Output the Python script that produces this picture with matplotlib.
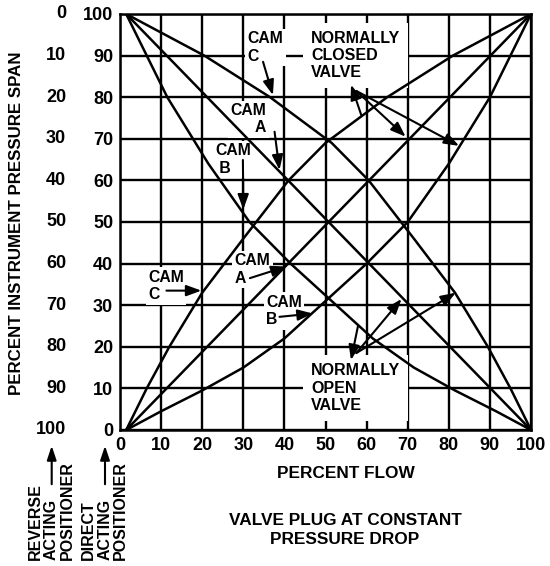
import matplotlib
matplotlib.use('Agg')
import matplotlib.pyplot as plt

plt.rcParams['font.family'] = ['Liberation Sans', 'DejaVu Sans']
plt.rcParams['font.weight'] = 'bold'

# Cam curves (percent flow -> percent instrument span)
cam_a_flow = [1.5, 100]
cam_a_span = [0, 100]
cam_b_flow = [1.5, 10, 20, 30, 40, 50, 60, 70, 80, 90, 100]
cam_b_span = [0, 4.5, 9.5, 15, 22, 31, 40, 50, 64, 80, 100]
cam_c_flow = [1.5, 6.5, 12, 20, 30, 41, 50, 65, 81, 100]
cam_c_span = [0, 10, 20, 33, 46, 60, 69, 80, 90, 100]

flow_ticks = [0, 10, 20, 30, 40, 50, 60, 70, 80, 90, 100]
direct_ticks = [0, 10, 20, 30, 40, 50, 60, 70, 80, 90, 100]
reverse_labels = ['100', '90', '80', '70', '60', '50', '40', '30', '20', '10', '0']

W, H = 550, 566
fig = plt.figure(figsize=(W / 100, H / 100), dpi=100)
ax = fig.add_axes([0.2182, 0.2403, 0.7473, 0.735])

# normally open (rising) and normally closed (falling, mirrored) curves
for fx, sp in [(cam_a_flow, cam_a_span), (cam_b_flow, cam_b_span), (cam_c_flow, cam_c_span)]:
    ax.plot(fx, sp, color='black', lw=1.8, zorder=4, solid_capstyle='round')
    ax.plot([101.5 - v for v in fx], sp, color='black', lw=1.8, zorder=4, solid_capstyle='round')

ax.set_xlim(0, 100)
ax.set_ylim(0, 100)
ax.set_xticks(flow_ticks)
ax.set_xticklabels([str(v) for v in flow_ticks], fontweight='bold')
ax.set_yticks(direct_ticks)
ax.set_yticklabels([str(v) for v in direct_ticks], fontweight='bold')
ax.tick_params(length=0, pad=5, labelsize=13)
ax.grid(True, color='black', lw=1.7)
ax.set_axisbelow(True)
for s in ax.spines.values():
    s.set_linewidth(1.8)

# reverse acting scale
for v, lab in zip(direct_ticks, reverse_labels):
    ax.text(-0.131, v, lab, transform=ax.get_yaxis_transform(), ha='right', va='center',
            fontsize=13, fontweight='bold', clip_on=False)


def label(x, y, s, ha='left', pad=0.15, size=11.3):
    ax.text(x, y, s, ha=ha, va='top', multialignment=ha, fontsize=size, fontweight='bold',
            linespacing=1.2, zorder=3,
            bbox=dict(boxstyle='square,pad=%s' % pad, fc='white', ec='none'))


def arrow(tail, tip):
    ax.annotate('', xy=tip, xytext=tail, zorder=5,
                arrowprops=dict(arrowstyle='-|>,head_length=0.6,head_width=0.22',
                                color='black', lw=1.5, shrinkA=0, shrinkB=0,
                                mutation_scale=15))


# upper labels
label(31.1, 95.8, 'CAM\nC')
arrow((34.8, 88.5), (37.2, 80.5))
label(35.6, 78.6, 'CAM\nA', ha='right')
arrow((37.6, 71.7), (38.8, 62.5))
label(23.1, 68.9, 'CAM\n B')
arrow((29.9, 64.9), (30.0, 53.0))
label(46.5, 96.0, 'NORMALLY\nCLOSED\nVALVE', pad=0.5, size=11.5)
arrow((58.7, 75.7), (56.2, 83.0))
arrow((57.5, 81.5), (69.5, 70.5))
arrow((57.5, 81.5), (82.5, 68.3))

# lower labels
label(6.9, 38.5, 'CAM\nC')
arrow((11.3, 33.5), (19.8, 33.5))
label(27.9, 42.5, 'CAM\nA')
arrow((31.6, 36.5), (40.5, 39.3))
label(35.6, 32.5, 'CAM\nB')
arrow((38.8, 27.2), (46.9, 28.0))
label(46.5, 16.0, 'NORMALLY\nOPEN\nVALVE', pad=0.5, size=11.5)
arrow((57.9, 25.0), (56.2, 16.8))
arrow((57.5, 18.5), (68.5, 31.5))
arrow((57.5, 18.5), (81.7, 33.0))

# outside texts
fig.text(17 / W, 1 - 223.5 / H, 'PERCENT INSTRUMENT PRESSURE SPAN', rotation=90,
         ha='center', va='center', fontsize=12.2, fontweight='bold')
fig.text(346 / W, 1 - 473 / H, 'PERCENT FLOW', ha='center', va='center',
         fontsize=12.4, fontweight='bold')
fig.text(345 / W, 1 - 530 / H, 'VALVE PLUG AT CONSTANT\nPRESSURE DROP', ha='center',
         va='center', fontsize=12.4, fontweight='bold', linespacing=1.3)

for cx, txt in [(51.3, 'REVERSE\nACTING\nPOSITIONER'), (104.7, 'DIRECT\nACTING\nPOSITIONER')]:
    fig.text(cx / W, 1 - 560 / H, txt, rotation=90, ha='center', va='bottom',
             multialignment='left', fontsize=11.5, fontweight='bold', linespacing=1.08)
for ax_x in [51.7, 105.0]:
    fig.add_artist(matplotlib.patches.FancyArrowPatch(
        (ax_x, H - 487), (ax_x, H - 443), transform=None,
        arrowstyle='-|>,head_length=0.6,head_width=0.2', mutation_scale=14,
        color='black', lw=1.5))

fig.savefig('out.png', dpi=100)
